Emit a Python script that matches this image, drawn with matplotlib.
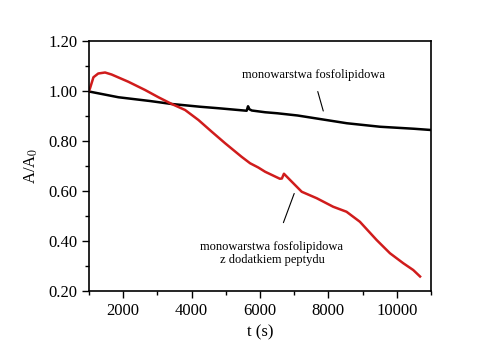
import matplotlib.pyplot as plt
from matplotlib.ticker import MultipleLocator, FormatStrFormatter

plt.rcParams['font.family'] = ['Liberation Serif', 'DejaVu Serif']
plt.rcParams['mathtext.fontset'] = 'stix'

# monolayer without peptide (black)
t_lipid = [1000, 1860, 2780, 3420, 4250, 4790, 5610, 5650, 5690, 5760, 6150, 6500,
           7100, 7750, 8540, 9510, 10500, 11000]
a_lipid = [0.998, 0.975, 0.960, 0.948, 0.937, 0.931, 0.921, 0.939, 0.927, 0.922, 0.915, 0.911,
           0.902, 0.888, 0.871, 0.857, 0.849, 0.844]

# monolayer with peptide (red)
t_pept = [1000, 1030, 1130, 1270, 1470, 1660, 2150, 2640, 3030, 3420, 3810, 4200,
          4590, 4980, 5460, 5710, 5950, 6150, 6580, 6640, 6700, 6880, 7220, 7660,
          8140, 8530, 8920, 9410, 9800, 10190, 10480, 10680]
a_pept = [1.000, 1.011, 1.055, 1.070, 1.074, 1.066, 1.037, 1.004, 0.975, 0.948, 0.924, 0.884,
          0.837, 0.791, 0.737, 0.711, 0.694, 0.677, 0.649, 0.650, 0.669, 0.644, 0.597, 0.571,
          0.537, 0.517, 0.477, 0.404, 0.351, 0.311, 0.284, 0.258]

fig = plt.figure(figsize=(5.0, 3.49), dpi=100)
ax = fig.add_axes([89 / 500, 1 - 291 / 349, (431 - 89) / 500, (291 - 41) / 349])

ax.plot(t_lipid, a_lipid, color='black', linewidth=1.8)
ax.plot(t_pept, a_pept, color='#d01c1c', linewidth=1.8)

ax.set_xlim(1000, 11000)
ax.set_ylim(0.20, 1.20)
ax.xaxis.set_major_locator(MultipleLocator(2000))
ax.xaxis.set_minor_locator(MultipleLocator(1000))
ax.yaxis.set_major_locator(MultipleLocator(0.2))
ax.yaxis.set_minor_locator(MultipleLocator(0.1))
ax.yaxis.set_major_formatter(FormatStrFormatter('%.2f'))
ax.tick_params(which='both', direction='out', top=False, right=False, labelsize=12, width=1)
ax.tick_params(which='major', length=5)
ax.tick_params(which='minor', length=3)
for s in ax.spines.values():
    s.set_linewidth(1.2)

ax.set_xlabel('t (s)', fontsize=12, labelpad=4)
ax.set_ylabel('A/A$_0$', fontsize=12, labelpad=6)

ax.annotate('monowarstwa fosfolipidowa', xy=(7850, 0.92), xytext=(7550, 1.065),
            ha='center', va='center', fontsize=9,
            arrowprops=dict(arrowstyle='-', color='black', lw=0.8, shrinkA=6, shrinkB=0))
ax.annotate('monowarstwa fosfolipidowa\nz dodatkiem peptydu', xy=(7000, 0.59),
            xytext=(6350, 0.35), ha='center', va='center', fontsize=9, linespacing=1.1,
            arrowprops=dict(arrowstyle='-', color='black', lw=0.8, shrinkA=12, shrinkB=0))

fig.savefig('out.png', dpi=100)
